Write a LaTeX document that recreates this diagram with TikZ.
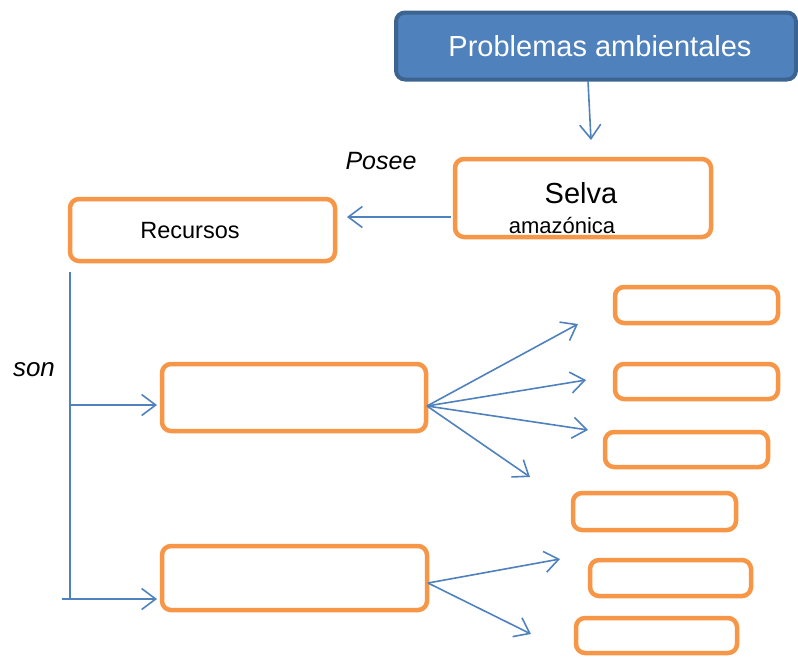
\documentclass[tikz,border=0pt]{standalone}
\usepackage{fontspec}
\setmainfont{Liberation Sans}
\usetikzlibrary{arrows.meta}
\definecolor{orangec}{HTML}{F79646}
\definecolor{bline}{HTML}{4F81BD}
\definecolor{bfill}{HTML}{4F81BD}
\definecolor{bdraw}{HTML}{3D6490}
\tikzset{
  obox/.style={draw=orangec, line width=4.5pt, rounded corners=9pt, fill=white, inner sep=0pt},
  bbox/.style={draw=bdraw, fill=bfill, line width=4pt, rounded corners=9pt, inner sep=0pt},
  conn/.style={draw=bline, line width=1.6pt, -{Straight Barb[length=14pt,width=21pt,line width=1.6pt]}},
  plain/.style={draw=bline, line width=1.6pt},
  txt/.style={inner sep=0pt, anchor=center},
}
\begin{document}
\begin{tikzpicture}[x=1pt,y=-1pt]
\useasboundingbox (0,0) rectangle (798,657);
% boxes
\node[bbox, minimum width=400pt, minimum height=67pt] (prob) at (596,46) {};
\node[txt, text=white, font=\fontsize{29}{34}\selectfont] (probt) at (600,46) {Problemas ambientales};
\node[obox, minimum width=256pt, minimum height=78pt] (selva) at (583,198) {};
\node[txt, font=\fontsize{29}{34}\selectfont] (selvat) at (581,193) {Selva};
\node[txt, font=\fontsize{22}{26}\selectfont] (amazt) at (562,226) {amazónica};
\node[obox, minimum width=265pt, minimum height=62pt] (rec) at (202.5,230) {};
\node[txt, font=\fontsize{23.5}{28}\selectfont] (rect) at (190,231) {Recursos};
\node[obox, minimum width=264pt, minimum height=67pt] (m1) at (294,397.5) {};
\node[obox, minimum width=265pt, minimum height=64pt] (m2) at (294.5,578) {};
\node[obox, minimum width=163pt, minimum height=36pt] (r1) at (696.5,305) {};
\node[obox, minimum width=163pt, minimum height=35pt] (r2) at (696.5,381.5) {};
\node[obox, minimum width=163pt, minimum height=35pt] (r3) at (686.5,449.5) {};
\node[obox, minimum width=163pt, minimum height=37pt] (r4) at (654.5,511.5) {};
\node[obox, minimum width=161pt, minimum height=36pt] (r5) at (670.5,578) {};
\node[obox, minimum width=161pt, minimum height=35pt] (r6) at (656.5,635.5) {};
% labels
\node[txt, font=\fontsize{25}{30}\selectfont\itshape] (posee) at (381,161) {Posee};
\node[txt, font=\fontsize{26}{30}\selectfont\itshape] (son) at (34,370) {son};
% coordinates
\coordinate (pa) at (588,81);
\coordinate (pb) at (591,140);
\coordinate (sa) at (451,217);
\coordinate (sb) at (347,217);
\coordinate (v1) at (70,272);
\coordinate (v2) at (70,599);
\coordinate (h1) at (70,405);
\coordinate (h1t) at (157,405);
\coordinate (h2) at (62,599);
\coordinate (h2t) at (157,599);
\coordinate (o1) at (427,406);
\coordinate (t1) at (578,324);
\coordinate (t2) at (586,380);
\coordinate (t3) at (588,430);
\coordinate (t4) at (530,477);
\coordinate (o2) at (428,583);
\coordinate (t5) at (560,559);
\coordinate (t6) at (531,634);
% connectors
\draw[conn] (pa) -- (pb);
\draw[conn] (sa) -- (sb);
\draw[plain] (v1) -- (v2);
\draw[conn] (h1) -- (h1t);
\draw[conn] (h2) -- (h2t);
\draw[conn] (o1) -- (t1);
\draw[conn] (o1) -- (t2);
\draw[conn] (o1) -- (t3);
\draw[conn] (o1) -- (t4);
\draw[conn] (o2) -- (t5);
\draw[conn] (o2) -- (t6);
\end{tikzpicture}
\end{document}
